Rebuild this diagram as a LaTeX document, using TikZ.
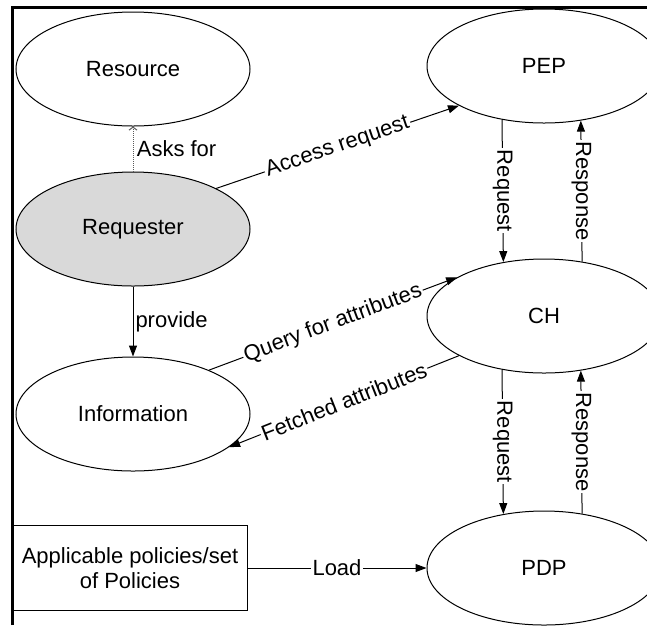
\documentclass[tikz,border=0pt]{standalone}
\usepackage{fontspec}
\setmainfont{Liberation Sans}
\usetikzlibrary{shapes.geometric,arrows.meta}

\begin{document}
\begin{tikzpicture}[x=1pt, y=-1pt, line width=1pt, >={Triangle[length=11pt,width=8pt]},
    font=\fontsize{22}{25}\selectfont,
    ent/.style={draw, ellipse, minimum width=234pt, minimum height=114pt, inner sep=0pt},
    lbl/.style={fill=white, inner sep=1.5pt}]
    \useasboundingbox (0,0) rectangle (647,625);
    % frame
    \draw[line width=3pt] (12,625) -- (12,7) -- (647,7);
    % left column
    \node[ent] (res) at (133,69) {Resource};
    \node[ent, fill=gray!30] (req) at (133,229) {Requester};
    \node[ent] (info) at (133,414) {Information};
    \node[draw, minimum width=234pt, minimum height=85pt, align=center] (pol) at (130,568) {Applicable policies/set\\of Policies};
    % right column
    \node[ent] (pep) at (544,66) {PEP};
    \node[ent] (ch) at (544,316) {CH};
    \node[ent] (pdp) at (544,568) {PDP};
    % connectors
    \draw[densely dotted, gray!70!black, -{Straight Barb[length=3pt,width=8pt]}] (req) -- node[right, black] {Asks for} (res);
    \draw[->] (req) -- node[right, inner sep=2pt] {provide} (info);
    \draw[->] (req.26) -- node[lbl, sloped] {Access request} (pep.205);
    \draw[->] (pep.232.5) -- node[lbl, rotate=-90] {Request} (ch.127.5);
    \draw[->] (ch.55.5) -- node[lbl, rotate=-90] {Response} (pep.304.5);
    \draw[->] (ch.232.5) -- node[lbl, rotate=-90] {Request} (pdp.127.5);
    \draw[->] (pdp.55.5) -- node[lbl, rotate=-90] {Response} (ch.304.5);
    \draw[->] (info.30) -- node[lbl, sloped] {Query for attributes} (ch.156);
    \draw[->] (ch.205) -- node[lbl, sloped] {Fetched attributes} (info.341);
    \draw[->] (pol) -- node[lbl] {Load} (pdp);
\end{tikzpicture}
\end{document}
